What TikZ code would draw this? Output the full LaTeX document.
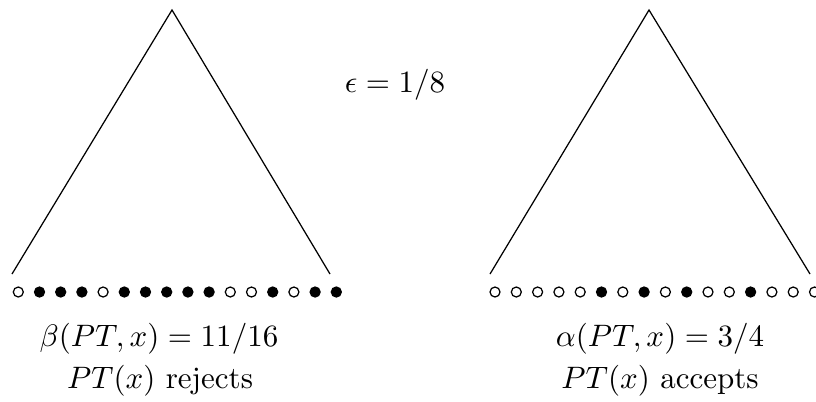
\documentclass[tikz,border=0pt]{standalone}
\usetikzlibrary{positioning}

\newlength{\pxlen}
\setlength{\pxlen}{0.01134cm}
\tikzset{
  leaf/.style={circle, draw=black, thin, inner sep=0pt, minimum size=10\pxlen},
  leaf1/.style={leaf, fill=black},
  leaf0/.style={leaf, fill=white},
}

\begin{document}
\begin{tikzpicture}[x=0.01134cm, y=-0.01134cm]
  \useasboundingbox (0,0) rectangle (816,401);

  % Left tree
  \coordinate (ltop) at (172,10);
  \coordinate (lleft) at (12,274);
  \coordinate (lright) at (330,274);
  \draw (lleft) -- (ltop) -- (lright);

  % Right tree
  \coordinate (rtop) at (649,10);
  \coordinate (rleft) at (490,274);
  \coordinate (rright) at (810,274);
  \draw (rleft) -- (rtop) -- (rright);

  % Leaves, left: 1 = filled
  \foreach \b [count=\i from 0] in {0,1,1,1,0,1,1,1,1,1,0,0,1,0,1,1}
    \node[leaf\b] (lbit\i) at (18.3+21.2*\i,292) {};

  % Leaves, right
  \foreach \b [count=\i from 0] in {0,0,0,0,0,1,0,1,0,1,0,0,1,0,0,0}
    \node[leaf\b] (rbit\i) at (495+21.3*\i,292) {};

  % Labels
  \node[anchor=base] (eps) at (395,92) {$\epsilon = 1/8$};
  \node[anchor=base] (beta) at (159,346) {$\beta(PT,x) = 11/16$};
  \node[anchor=base] (rej) at (160,388) {$PT(x)$ rejects};
  \node[anchor=base] (alpha) at (660,346) {$\alpha(PT,x) = 3/4$};
  \node[anchor=base] (acc) at (660,388) {$PT(x)$ accepts};
\end{tikzpicture}
\end{document}
